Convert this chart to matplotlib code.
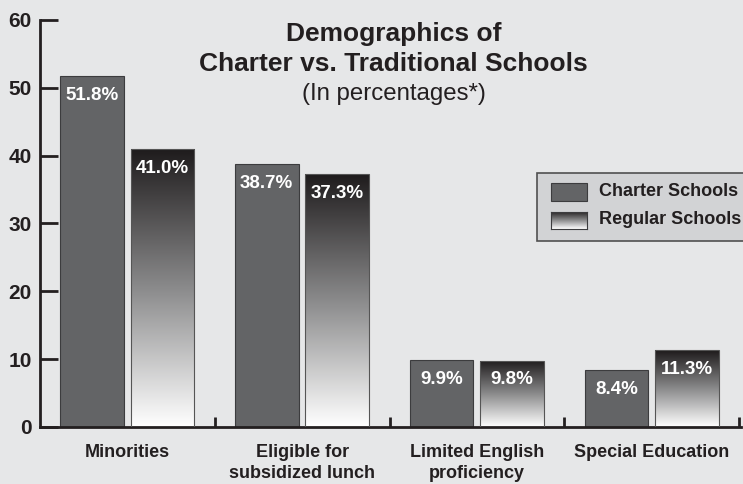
import numpy as np
import matplotlib
matplotlib.use("Agg")
import matplotlib.pyplot as plt
from matplotlib.colors import LinearSegmentedColormap
from matplotlib.patches import Rectangle

plt.rcParams['font.family'] = ['Liberation Sans', 'DejaVu Sans']

categories = ["Minorities", "Eligible for\nsubsidized lunch",
              "Limited English\nproficiency", "Special Education"]
charter = [51.8, 38.7, 9.9, 8.4]
regular = [41.0, 37.3, 9.8, 11.3]
yticks = [0, 10, 20, 30, 40, 50, 60]

BG = "#e6e7e8"
DARK = "#231f20"
CHARTER_COLOR = "#636466"
grad_cmap = LinearSegmentedColormap.from_list("grad", ["#ffffff", "#8a8a8b", "#1e1b1c"])
gradient = np.linspace(0, 1, 256).reshape(-1, 1)

fig = plt.figure(figsize=(7.43, 4.84), dpi=100)
fig.patch.set_facecolor(BG)
ax = fig.add_axes([0.0538, 0.1178, 0.9435, 0.8409])
ax.set_facecolor(BG)

x = np.arange(len(categories))
w = 0.364
off_c = 0.297
off_r = 0.700

ax.bar(x + off_c, charter, width=w, color=CHARTER_COLOR, edgecolor="#3c3c3e",
       linewidth=0.8, zorder=2)
rbars = ax.bar(x + off_r, regular, width=w, color="none", edgecolor="#555555",
               linewidth=0.8, zorder=3)
for b in rbars:
    x0, y0 = b.get_x(), b.get_y()
    im = ax.imshow(gradient, cmap=grad_cmap, origin="lower", aspect="auto",
                   extent=(x0, x0 + b.get_width(), y0, y0 + b.get_height()), zorder=2)
    im.set_clip_path(b)

for xs, vals in [(x + off_c, charter), (x + off_r, regular)]:
    for xi, v in zip(xs, vals):
        ax.annotate(f"{v:.1f}%", (xi, v), xytext=(0, -14), textcoords="offset points",
                    ha="center", va="center", color="white", fontsize=13.5,
                    fontweight="bold", zorder=5)

ax.set_xlim(0, 4.01)
ax.set_ylim(0, 60)

for s in ["top", "right"]:
    ax.spines[s].set_visible(False)
for s in ["left", "bottom"]:
    ax.spines[s].set_color(DARK)
    ax.spines[s].set_linewidth(2)

ax.set_yticks(yticks)
ax.tick_params(axis="y", direction="in", length=13, width=2, color=DARK, pad=6,
               labelsize=15, labelcolor=DARK)
for lbl in ax.get_yticklabels():
    lbl.set_fontweight("bold")

ax.set_xticks([1, 2, 3, 4])
ax.set_xticklabels([])
ax.tick_params(axis="x", direction="in", length=7, width=2, color=DARK)
ax.set_xticks(x + 0.5, minor=True)
ax.set_xticklabels(categories, minor=True, fontsize=13, fontweight="bold",
                   color=DARK, linespacing=1.3, va="top")
ax.tick_params(axis="x", which="minor", length=0, pad=12)

# title block
fig.text(0.530, 0.930, "Demographics of", ha="center", va="center",
         fontsize=19, fontweight="bold", color=DARK)
fig.text(0.530, 0.868, "Charter vs. Traditional Schools", ha="center", va="center",
         fontsize=19, fontweight="bold", color=DARK)
fig.text(0.530, 0.806, "(In percentages*)", ha="center", va="center",
         fontsize=17.3, color=DARK)

# legend drawn by hand so the gradient swatch can be shown
fig.patches.append(Rectangle((537 / 743, 1 - 241 / 484), 0.3, 68 / 484,
                             transform=fig.transFigure, facecolor="#d2d3d5",
                             edgecolor="#505050", linewidth=1.2, zorder=1))
fig.patches.append(Rectangle((551 / 743, 1 - 201 / 484), 36 / 743, 18 / 484,
                             transform=fig.transFigure, facecolor=CHARTER_COLOR,
                             edgecolor="#3c3c3e", linewidth=0.8, zorder=2))
gax = fig.add_axes([551 / 743, 1 - 229 / 484, 36 / 743, 17 / 484])
gax.set_zorder(3)
gax.imshow(gradient, cmap=grad_cmap, origin="lower", aspect="auto")
gax.set_xticks([])
gax.set_yticks([])
for s in gax.spines.values():
    s.set_color("#3c3c3e")
    s.set_linewidth(0.8)
fig.text(599 / 743, 1 - 192 / 484, "Charter Schools", ha="left", va="center",
         fontsize=13, fontweight="bold", color=DARK)
fig.text(599 / 743, 1 - 220 / 484, "Regular Schools", ha="left", va="center",
         fontsize=13, fontweight="bold", color=DARK)

fig.savefig("out.png", dpi=100, facecolor=BG)
